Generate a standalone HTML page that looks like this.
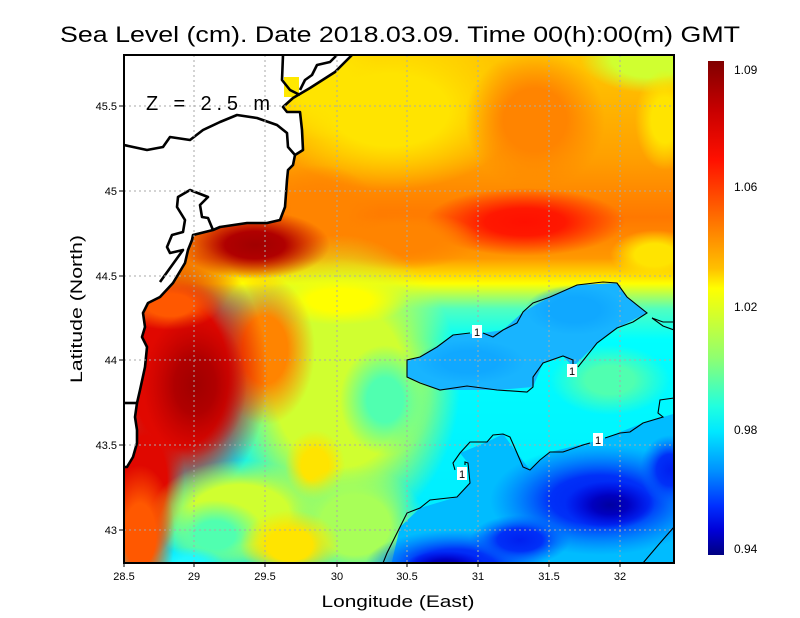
<!DOCTYPE html>
<html><head><meta charset="utf-8"><style>
html,body{margin:0;padding:0;background:#fff}
svg{display:block}
text{font-family:"Liberation Sans",sans-serif;fill:#000}
</style></head><body>
<svg width="800" height="618" viewBox="0 0 800 618" xmlns="http://www.w3.org/2000/svg">
<defs>
<clipPath id="pc"><rect x="124" y="55" width="550" height="508"/></clipPath>
<linearGradient id="base" x1="0" y1="55" x2="0" y2="563" gradientUnits="userSpaceOnUse">
<stop offset="0" stop-color="#ffc800"/>
<stop offset="0.2" stop-color="#ffa000"/>
<stop offset="0.32" stop-color="#ff7800"/>
<stop offset="0.4" stop-color="#ff9800"/>
<stop offset="0.45" stop-color="#ffff00"/>
<stop offset="0.5" stop-color="#50ffc0"/>
<stop offset="0.56" stop-color="#00ffff"/>
<stop offset="1" stop-color="#00e8ff"/>
</linearGradient>
<radialGradient id="gY"><stop offset="0" stop-color="#ffe400"/><stop offset="0.45" stop-color="#ffe400"/><stop offset="1" stop-color="#ffe400" stop-opacity="0"/></radialGradient>
<radialGradient id="gY2"><stop offset="0" stop-color="#ffff00"/><stop offset="0.45" stop-color="#ffff00"/><stop offset="1" stop-color="#ffff00" stop-opacity="0"/></radialGradient>
<radialGradient id="gO"><stop offset="0" stop-color="#ff8400"/><stop offset="0.45" stop-color="#ff8400"/><stop offset="1" stop-color="#ff8400" stop-opacity="0"/></radialGradient>
<radialGradient id="gO2"><stop offset="0" stop-color="#ff5800"/><stop offset="0.45" stop-color="#ff5800"/><stop offset="1" stop-color="#ff5800" stop-opacity="0"/></radialGradient>
<radialGradient id="gR"><stop offset="0" stop-color="#ff1000"/><stop offset="0.4" stop-color="#ff1800"/><stop offset="1" stop-color="#ff1800" stop-opacity="0"/></radialGradient>
<radialGradient id="gR2"><stop offset="0" stop-color="#e00800"/><stop offset="0.55" stop-color="#e00800"/><stop offset="1" stop-color="#e00800" stop-opacity="0"/></radialGradient>
<radialGradient id="gDR"><stop offset="0" stop-color="#a00000"/><stop offset="0.4" stop-color="#b00000"/><stop offset="1" stop-color="#c00000" stop-opacity="0"/></radialGradient>
<radialGradient id="gLG"><stop offset="0" stop-color="#d0ff30"/><stop offset="0.55" stop-color="#d0ff30"/><stop offset="1" stop-color="#d0ff30" stop-opacity="0"/></radialGradient>
<radialGradient id="gG"><stop offset="0" stop-color="#50ffb0"/><stop offset="0.4" stop-color="#50ffb0"/><stop offset="1" stop-color="#50ffb0" stop-opacity="0"/></radialGradient>
<radialGradient id="gG2"><stop offset="0" stop-color="#a8ff58"/><stop offset="0.5" stop-color="#a8ff58"/><stop offset="1" stop-color="#a8ff58" stop-opacity="0"/></radialGradient>
<radialGradient id="gC"><stop offset="0" stop-color="#20f8ff"/><stop offset="0.4" stop-color="#20f8ff"/><stop offset="1" stop-color="#20f8ff" stop-opacity="0"/></radialGradient>
<radialGradient id="gLB"><stop offset="0" stop-color="#10a8ff"/><stop offset="0.5" stop-color="#10a8ff"/><stop offset="1" stop-color="#10a8ff" stop-opacity="0"/></radialGradient>
<radialGradient id="gB"><stop offset="0" stop-color="#0020f0"/><stop offset="0.45" stop-color="#0030f8"/><stop offset="1" stop-color="#0060ff" stop-opacity="0"/></radialGradient>
<radialGradient id="gDB"><stop offset="0" stop-color="#0000a0"/><stop offset="0.4" stop-color="#0000c0"/><stop offset="1" stop-color="#0000e0" stop-opacity="0"/></radialGradient>
<linearGradient id="cb" x1="0" y1="0" x2="0" y2="1">
<stop offset="0" stop-color="#800000"/>
<stop offset="0.1" stop-color="#c80000"/>
<stop offset="0.2" stop-color="#ff1000"/>
<stop offset="0.3" stop-color="#ff6000"/>
<stop offset="0.42" stop-color="#ffc000"/>
<stop offset="0.46" stop-color="#ffff00"/>
<stop offset="0.6" stop-color="#90ff70"/>
<stop offset="0.7" stop-color="#20ffe0"/>
<stop offset="0.75" stop-color="#00e8ff"/>
<stop offset="0.83" stop-color="#0090ff"/>
<stop offset="0.9" stop-color="#0030ff"/>
<stop offset="0.95" stop-color="#0000d8"/>
<stop offset="1" stop-color="#000080"/>
</linearGradient>
</defs>

<text x="400" y="42" font-size="22" text-anchor="middle" textLength="680" lengthAdjust="spacingAndGlyphs">Sea Level (cm). Date 2018.03.09. Time 00(h):00(m) GMT</text>

<g clip-path="url(#pc)">
<rect x="100" y="40" width="600" height="540" fill="url(#base)"/>
<ellipse cx="390" cy="110" rx="130" ry="80" fill="url(#gY)"/>
<ellipse cx="320" cy="80" rx="60" ry="60" fill="url(#gY)"/>
<ellipse cx="535" cy="120" rx="70" ry="70" fill="url(#gO)"/>
<ellipse cx="650" cy="58" rx="70" ry="35" fill="url(#gLG)"/>
<ellipse cx="665" cy="120" rx="30" ry="50" fill="url(#gY)"/>
<ellipse cx="525" cy="222" rx="100" ry="34" fill="url(#gR)"/>
<ellipse cx="400" cy="240" rx="80" ry="30" fill="url(#gO)"/>
<ellipse cx="655" cy="255" rx="45" ry="25" fill="url(#gY)"/>
<ellipse cx="320" cy="215" rx="60" ry="50" fill="url(#gO)"/>
<ellipse cx="340" cy="385" rx="120" ry="150" fill="url(#gLG)"/>
<ellipse cx="385" cy="400" rx="45" ry="55" fill="url(#gG)"/>
<ellipse cx="315" cy="465" rx="30" ry="35" fill="url(#gY)"/>
<ellipse cx="340" cy="300" rx="70" ry="25" fill="url(#gY2)"/>
<ellipse cx="265" cy="350" rx="50" ry="75" fill="url(#gO)"/>
<ellipse cx="180" cy="375" rx="88" ry="130" fill="url(#gR2)"/>
<ellipse cx="145" cy="480" rx="40" ry="80" fill="url(#gR2)"/>
<ellipse cx="170" cy="305" rx="50" ry="25" fill="url(#gO2)"/>
<ellipse cx="195" cy="385" rx="52" ry="72" fill="url(#gDR)"/>
<ellipse cx="255" cy="245" rx="75" ry="34" fill="url(#gDR)"/>
<ellipse cx="240" cy="515" rx="90" ry="55" fill="url(#gLG)"/>
<ellipse cx="355" cy="525" rx="70" ry="60" fill="url(#gG2)"/>
<ellipse cx="215" cy="535" rx="50" ry="35" fill="url(#gG)"/>
<ellipse cx="190" cy="565" rx="35" ry="18" fill="url(#gC)"/>
<ellipse cx="290" cy="545" rx="50" ry="35" fill="url(#gY)"/>
<ellipse cx="140" cy="535" rx="35" ry="70" fill="url(#gO2)"/>
<ellipse cx="610" cy="380" rx="60" ry="35" fill="url(#gG)"/>
<path d="M407,360 L420,357 L437,347 L453,335 L483,333 L503,330 L523,312 L550,297 L577,285 L617,283 L627,297 L647,313 L617,328 L597,343 L573,367 L563,356 L543,363 L533,387 L497,390 L440,390 L407,377 Z" fill="#18b4ff"/>
<ellipse cx="470" cy="362" rx="55" ry="22" fill="url(#gLB)"/>
<ellipse cx="575" cy="310" rx="50" ry="25" fill="url(#gLB)"/>
<path d="M383,600 L400,527 L420,508 L457,497 L470,483 L468,463 L460,453 L487,442 L503,434 L517,453 L530,470 L550,452 L600,440 L643,423 L663,417 L720,400 L720,600 Z" fill="#00bcff"/>
<ellipse cx="600" cy="500" rx="110" ry="55" fill="url(#gB)"/>
<ellipse cx="455" cy="565" rx="90" ry="35" fill="url(#gB)"/>
<ellipse cx="520" cy="540" rx="50" ry="25" fill="url(#gB)"/>
<ellipse cx="670" cy="470" rx="30" ry="35" fill="url(#gB)"/>
<ellipse cx="610" cy="505" rx="45" ry="24" fill="url(#gDB)"/>
<ellipse cx="445" cy="565" rx="40" ry="14" fill="url(#gDB)"/>

<polygon fill="#fff" points="124,55 352,55 335,72 310,88 293,98 283,107 287,112 300,112 302,130 303,150 295,155 293,165 288,170 287,180 285,207 280,220 267,223 247,223 220,227 213,230 193,235 192,240 188,250 185,263 173,283 160,297 148,303 143,313 145,327 142,337 147,347 145,367 140,390 137,403 135,417 137,430 137,443 133,457 127,467 124,467"/>
<rect x="284" y="77" width="15" height="20" fill="#ffe800"/>
<g fill="none" stroke="#000" stroke-width="2.6" stroke-linejoin="round">
<polyline points="352,55 335,72 310,88 293,98 283,107 287,112 300,112 302,130 303,150 295,155 293,165 288,170 287,180 285,207 280,220 267,223 247,223 220,227 213,230 193,235 192,240 188,250 185,263 173,283 160,297 148,303 143,313 145,327 142,337 147,347 145,367 140,390 137,403 135,417 137,430 137,443 133,457 127,467 124,467"/>
<polyline points="124,145 147,150 163,147 170,137 190,140 203,130 220,122 237,115 257,118 277,125 287,133 288,147 295,155"/>
<polyline points="213,230 208,218 202,217 200,205 208,197 190,190 178,197 177,207 185,220 183,232 172,235 167,247 170,253 183,250 160,282"/>
<polyline points="283,55 282,80 290,90 300,95"/>
<polyline points="337,55 330,62 317,65 312,75 305,80 300,90"/>
<polyline points="124,403 137,403"/>
</g>
<g stroke="#aaa" stroke-width="1" stroke-dasharray="2,3">
<line x1="194" y1="55" x2="194" y2="563"/><line x1="265" y1="55" x2="265" y2="563"/>
<line x1="337" y1="55" x2="337" y2="563"/><line x1="407" y1="55" x2="407" y2="563"/>
<line x1="478" y1="55" x2="478" y2="563"/><line x1="549" y1="55" x2="549" y2="563"/>
<line x1="620" y1="55" x2="620" y2="563"/>
<line x1="124" y1="106" x2="674" y2="106"/><line x1="124" y1="191" x2="674" y2="191"/>
<line x1="124" y1="276" x2="674" y2="276"/><line x1="124" y1="360" x2="674" y2="360"/>
<line x1="124" y1="445" x2="674" y2="445"/><line x1="124" y1="530" x2="674" y2="530"/>
</g>
<g fill="none" stroke="#000" stroke-width="1.1">
<polyline points="573,367 573,360 563,356 543,363 533,377 533,387 527,392 497,390 467,386 440,390 420,383 407,377 407,360 420,357 437,347 453,335 470,333"/>
<polyline points="483,333 493,337 503,330 517,323 523,312 533,303 550,297 577,285 603,282 617,283 627,297 647,313 633,322 617,328 597,343 578,367"/>
<polyline points="674,322 663,322 652,318 663,326 674,330"/>
<polyline points="674,398 660,400 658,413 663,417 643,423 630,432 620,433 605,438"/>
<polyline points="590,443 583,445 563,452 550,452 540,460 530,470 523,467 517,453 510,437 503,434 493,435 487,442 470,442 460,453 453,463 455,470"/>
<polyline points="465,465 465,462 468,463 470,483 457,497 430,500 420,508 407,513 400,527 387,553 383,563"/>
<polyline points="674,527 660,543 643,563"/>
</g>
</g>
<g font-size="11">
<rect x="472" y="325" width="10" height="13" fill="#fff"/><text x="477" y="336" text-anchor="middle">1</text>
<rect x="567" y="364" width="10" height="13" fill="#fff"/><text x="572" y="375" text-anchor="middle">1</text>
<rect x="593" y="433" width="10" height="13" fill="#fff"/><text x="598" y="444" text-anchor="middle">1</text>
<rect x="457" y="467" width="10" height="13" fill="#fff"/><text x="462" y="478" text-anchor="middle">1</text>
</g>
<text x="146" y="110" font-size="20" textLength="124" lengthAdjust="spacing" fill="#222">Z = 2.5 m</text>
<rect x="124" y="55" width="550" height="508" fill="none" stroke="#000" stroke-width="2"/>
<g stroke="#000" stroke-width="1">
<line x1="124" y1="563" x2="124" y2="567"/><line x1="194" y1="563" x2="194" y2="567"/><line x1="265" y1="563" x2="265" y2="567"/><line x1="337" y1="563" x2="337" y2="567"/><line x1="407" y1="563" x2="407" y2="567"/><line x1="478" y1="563" x2="478" y2="567"/><line x1="549" y1="563" x2="549" y2="567"/><line x1="620" y1="563" x2="620" y2="567"/>
<line x1="119" y1="106" x2="124" y2="106"/><line x1="119" y1="191" x2="124" y2="191"/><line x1="119" y1="276" x2="124" y2="276"/><line x1="119" y1="360" x2="124" y2="360"/><line x1="119" y1="445" x2="124" y2="445"/><line x1="119" y1="530" x2="124" y2="530"/>
</g>
<g font-size="11" text-anchor="middle">
<text x="124" y="580">28.5</text><text x="194" y="580">29</text><text x="265" y="580">29.5</text><text x="337" y="580">30</text><text x="407" y="580">30.5</text><text x="478" y="580">31</text><text x="549" y="580">31.5</text><text x="620" y="580">32</text>
</g>
<g font-size="11" text-anchor="end">
<text x="117" y="110">45.5</text><text x="117" y="195">45</text><text x="117" y="280">44.5</text><text x="117" y="364">44</text><text x="117" y="449">43.5</text><text x="117" y="534">43</text>
</g>
<text x="398" y="607" font-size="17" text-anchor="middle" textLength="153" lengthAdjust="spacingAndGlyphs">Longitude (East)</text>
<text transform="translate(82,309) rotate(-90)" font-size="17" text-anchor="middle" textLength="148" lengthAdjust="spacingAndGlyphs">Latitude (North)</text>
<rect x="708" y="61" width="16" height="494" fill="url(#cb)"/>
<g font-size="12">
<text x="734" y="74">1.09</text><text x="734" y="191">1.06</text><text x="734" y="311">1.02</text><text x="734" y="434">0.98</text><text x="734" y="553">0.94</text>
</g>
</svg>
</body></html>
